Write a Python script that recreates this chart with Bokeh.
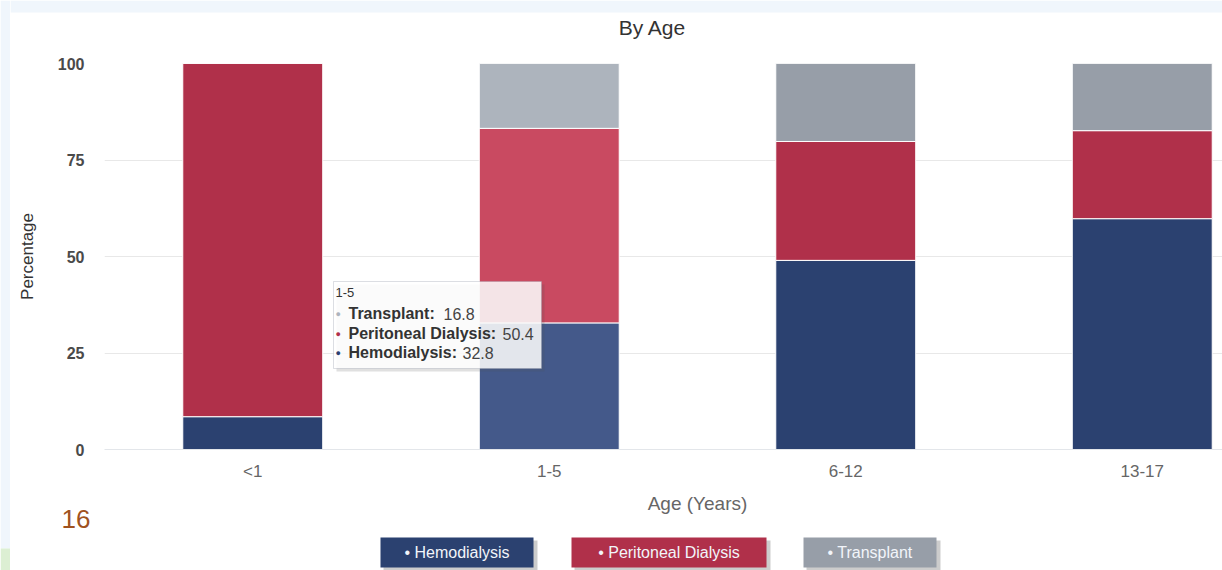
from bokeh.plotting import figure
from bokeh.layouts import row, column
from bokeh.models import ColumnDataSource, Range1d, FixedTicker, Label, BoxAnnotation
from bokeh.transform import stack
from bokeh.embed import file_html
from bokeh.resources import INLINE

# ---- data -------------------------------------------------------------
age_groups = ["<1", "1-5", "6-12", "13-17"]
hemodialysis = [8.5, 32.8, 49.0, 59.8]
peritoneal = [91.5, 50.4, 30.8, 22.8]
transplant = [0.0, 16.8, 20.2, 17.4]

series_names = ["Hemodialysis", "Peritoneal Dialysis", "Transplant"]
series_colors = ["#2b4170", "#b0304a", "#979ea8"]
hover_colors = ["#44598a", "#c94a61", "#adb4bd"]
highlighted = "1-5"

title_text = "By Age"
x_title = "Age (Years)"
y_title = "Percentage"
y_ticks = [0, 25, 50, 75, 100]
slide_number = "16"

FONT = "Liberation Sans"
SLIDE_BG = "#f0f6fc"

# ---- page geometry (pixels) -------------------------------------------
W, H = 1222, 570
STRIP_W, STRIP_H = 10, 12          # slide margin on the left and top
TOP_H = 45                          # title band (incl. the top strip)
MAIN_H = 440                        # chart with both axes
BOT_H = H - TOP_H - MAIN_H          # axis title, legend, slide number
INNER_W = W - STRIP_W

FL, FT, FB = 104, 63, 449           # plot frame edges on the page
BAND = 296.5                        # width of one category band


def dx(px):
    return (px - FL) / BAND


def dy(py):
    return (FB - py) * 100.0 / (FB - FT)


def plain(width, height, x0, x1, y0, y1):
    """A bare figure whose frame fills it, addressed in page pixels."""
    f = figure(width=width, height=height, output_backend="svg",
               toolbar_location=None, x_range=Range1d(x0, x1),
               y_range=Range1d(y1, y0), x_axis_type=None, y_axis_type=None,
               min_border=0, frame_align=False)
    f.min_border_left = f.min_border_right = 0
    f.min_border_top = f.min_border_bottom = 0
    f.outline_line_color = None
    f.grid.visible = False
    f.background_fill_color = "white"
    f.border_fill_color = "white"
    return f


# ---- left slide strip -------------------------------------------------
left = plain(STRIP_W, H, 0, STRIP_W, 0, H)
left.quad(left=0, right=STRIP_W, top=0, bottom=548, fill_color=SLIDE_BG, line_color=None)
left.quad(left=0, right=STRIP_W, top=548, bottom=H, fill_color="#dcefd3", line_color=None)

# ---- title band -------------------------------------------------------
top = plain(INNER_W, TOP_H, STRIP_W, W, 0, TOP_H)
top.quad(left=STRIP_W, right=W, top=0, bottom=STRIP_H, fill_color=SLIDE_BG, line_color=None)
top.add_layout(Label(x=652, y=27, text=title_text, text_font=FONT,
                     text_font_size="21px", text_color="#333333",
                     text_align="center", text_baseline="middle"))

# ---- main chart -------------------------------------------------------
xs = [i + 0.5 for i in range(len(age_groups))]
cols = {"hd": [], "pd": [], "tp": []}
for g in age_groups:
    pal = hover_colors if g == highlighted else series_colors
    cols["hd"].append(pal[0])
    cols["pd"].append(pal[1])
    cols["tp"].append(pal[2])

src = ColumnDataSource(dict(
    x=xs, hd=hemodialysis, pd=peritoneal, tp=transplant,
    hd_c=cols["hd"], pd_c=cols["pd"], tp_c=cols["tp"],
))

p = figure(
    width=INNER_W, height=MAIN_H, output_backend="svg", toolbar_location=None,
    x_range=Range1d(0, (W - FL) / BAND), y_range=Range1d(0, 100),
    min_border_left=FL - STRIP_W, min_border_right=0,
    min_border_top=FT - TOP_H, min_border_bottom=TOP_H + MAIN_H - FB,
    frame_align=False,
)
p.outline_line_color = None
p.background_fill_color = "white"
p.border_fill_color = "white"

bar_w = 0.472
p.vbar(x="x", width=bar_w, bottom=0, top=stack("hd"), source=src,
       fill_color="hd_c", line_color="white", line_width=1)
p.vbar(x="x", width=bar_w, bottom=stack("hd"), top=stack("hd", "pd"), source=src,
       fill_color="pd_c", line_color="white", line_width=1)
p.vbar(x="x", width=bar_w, bottom=stack("hd", "pd"), top=stack("hd", "pd", "tp"),
       source=src, fill_color="tp_c", line_color="white", line_width=1)

p.xaxis.ticker = FixedTicker(ticks=xs)
p.xaxis.major_label_overrides = {x: g for x, g in zip(xs, age_groups)}
p.xaxis.axis_line_color = "#e3e6ea"
p.xaxis.major_tick_line_color = None
p.xaxis.minor_tick_line_color = None
p.xaxis.major_tick_out = 0
p.xaxis.major_tick_in = 0
p.xaxis.major_label_text_font = FONT
p.xaxis.major_label_text_font_size = "17px"
p.xaxis.major_label_text_color = "#666666"
p.xaxis.major_label_standoff = 12

p.yaxis.ticker = FixedTicker(ticks=y_ticks)
p.yaxis.axis_line_color = None
p.yaxis.major_tick_line_color = None
p.yaxis.minor_tick_line_color = None
p.yaxis.major_tick_out = 0
p.yaxis.major_tick_in = 0
p.yaxis.major_label_text_font = FONT
p.yaxis.major_label_text_font_size = "16px"
p.yaxis.major_label_text_font_style = "bold"
p.yaxis.major_label_text_color = "#4a4a4a"
p.yaxis.major_label_standoff = 20
p.yaxis.axis_label = y_title
p.yaxis.axis_label_text_font = FONT
p.yaxis.axis_label_text_font_size = "17px"
p.yaxis.axis_label_text_font_style = "normal"
p.yaxis.axis_label_text_color = "#333333"
p.yaxis.axis_label_standoff = 18

p.xgrid.grid_line_color = None
p.ygrid.grid_line_color = "#e8e8e8"

# tooltip for the highlighted age group
i = age_groups.index(highlighted)
p.add_layout(BoxAnnotation(left=dx(336), right=dx(544), bottom=dy(371), top=dy(284),
                           fill_color="#555555", fill_alpha=0.18, line_color=None))
p.add_layout(BoxAnnotation(left=dx(333), right=dx(541), bottom=dy(368), top=dy(281),
                           fill_color="white", fill_alpha=0.85,
                           line_color="#8a93a3", line_width=1))
p.add_layout(Label(x=dx(335), y=dy(292), text=highlighted, text_font=FONT,
                   text_font_size="13px", text_color="#333333",
                   text_baseline="middle"))
rows = [
    (series_names[2], transplant[i], hover_colors[2], 313, 443),
    (series_names[1], peritoneal[i], series_colors[1], 333, 502),
    (series_names[0], hemodialysis[i], series_colors[0], 352, 462),
]
for name, val, col, py, vx in rows:
    p.add_layout(Label(x=dx(335), y=dy(py), text="\u25cf", text_font=FONT,
                       text_font_size="9px", text_color=col,
                       text_baseline="middle"))
    p.add_layout(Label(x=dx(348), y=dy(py), text=name + ":", text_font=FONT,
                       text_font_size="16px", text_font_style="bold",
                       text_color="#333333", text_baseline="middle"))
    p.add_layout(Label(x=dx(vx), y=dy(py), text=f"{val:.1f}", text_font=FONT,
                       text_font_size="16px", text_color="#444444",
                       text_baseline="middle"))

# ---- bottom band: axis title, legend, slide number --------------------
bot = plain(INNER_W, BOT_H, STRIP_W, W, TOP_H + MAIN_H, H)
bot.add_layout(Label(x=697, y=503, text=x_title, text_font=FONT,
                     text_font_size="19px", text_color="#666666",
                     text_align="center", text_baseline="middle"))
bot.add_layout(Label(x=61, y=518, text=slide_number, text_font=FONT,
                     text_font_size="26px", text_color="#a0521e",
                     text_align="left", text_baseline="middle"))

legend_boxes = [(380, 533), (571, 766), (803, 936)]
for (l, r), name, col in zip(legend_boxes, series_names, series_colors):
    bot.quad(left=l + 3, right=r + 4, top=540, bottom=570,
             fill_color="#555555", fill_alpha=0.3, line_color=None)
    bot.quad(left=l, right=r, top=537, bottom=567, fill_color=col, line_color=None)
    bot.add_layout(Label(x=(l + r) / 2, y=552, text="\u2022 " + name,
                         text_font=FONT, text_font_size="16px",
                         text_color="#f2f5fa", text_align="center",
                         text_baseline="middle"))

layout = row(left, column(top, p, bot, spacing=0), spacing=0)
open("out.html", "w").write(file_html(layout, INLINE))
